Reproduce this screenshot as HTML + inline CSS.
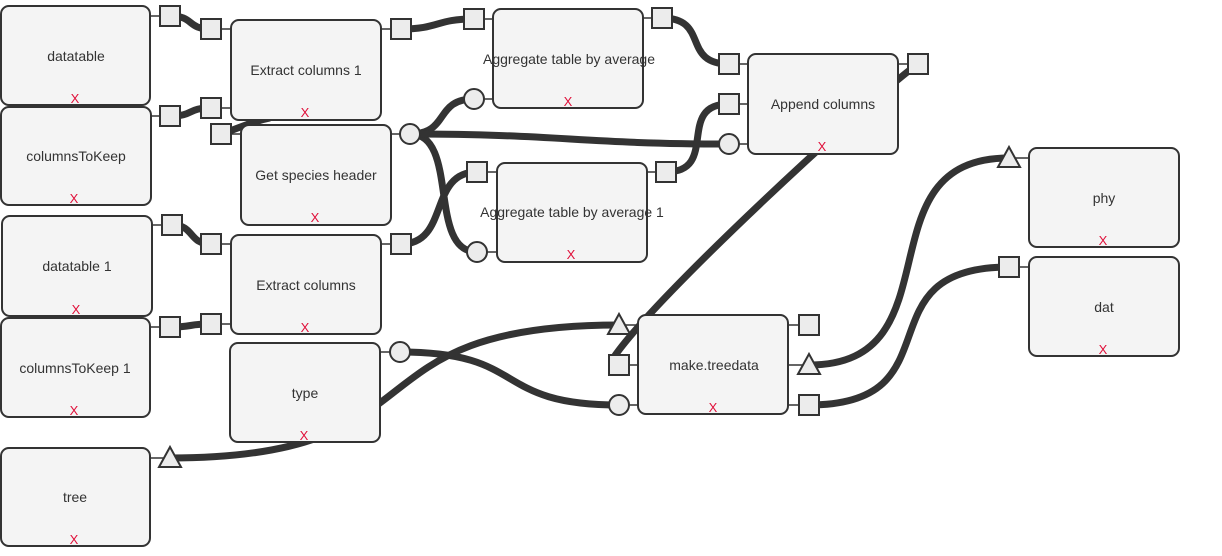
<!DOCTYPE html>
<html><head><meta charset="utf-8"><style>
html,body{margin:0;padding:0;background:#fff;width:1222px;height:556px;overflow:hidden}
text{font-family:"Liberation Sans",sans-serif;font-size:14px;fill:#333}
.x{fill:#e0103a;font-size:13px}
.b{fill:#f4f4f4;stroke:#333;stroke-width:2}
.p{fill:#ececec;stroke:#333;stroke-width:2}
.w{fill:none;stroke:#333;stroke-width:7}
.s{stroke:#333;stroke-width:1.5}
</style></head><body>
<svg width="1222" height="556" xmlns="http://www.w3.org/2000/svg">
<g class="w">
<path d="M170,16 C195,16 186,29 211,29"/>
<path d="M170,116 C195,116 186,108 211,108"/>
<path d="M401,29 C440,29 435,19 474,19"/>
<path d="M662,18 C710,18 681,64 729,64"/>
<path d="M410,134 C450,134 434,99 474,99"/>
<path d="M410,134 C460,134 427,252 477,252"/>
<path d="M410,134 C560,134 580,144 729,144"/>
<path d="M918,64 C880,90 650,300 612,360"/>
<path d="M666,172 C720,172 675,104 729,104"/>
<path d="M172,225 C195,225 188,244 211,244"/>
<path d="M170,327 C195,327 186,324 211,324"/>
<path d="M401,244 C450,244 428,172 477,172"/>
<path d="M221,134 C240,128 250,122 270,118"/>
<path d="M400,352 C530,352 490,405 619,405"/>
<path d="M170,458 C450,458 340,325 619,325"/>
<path d="M809,365 C960,365 858,158 1009,158"/>
<path d="M809,405 C960,405 858,267 1009,267"/>
</g>
<g class="s">
<line x1="150" y1="16" x2="170" y2="16"/><line x1="150" y1="116" x2="170" y2="116"/>
<line x1="152" y1="225" x2="172" y2="225"/><line x1="150" y1="327" x2="170" y2="327"/>
<line x1="150" y1="458" x2="170" y2="458"/>
<line x1="211" y1="29" x2="231" y2="29"/><line x1="211" y1="108" x2="231" y2="108"/>
<line x1="381" y1="29" x2="401" y2="29"/>
<line x1="221" y1="134" x2="241" y2="134"/><line x1="391" y1="134" x2="410" y2="134"/>
<line x1="211" y1="244" x2="231" y2="244"/><line x1="211" y1="324" x2="231" y2="324"/>
<line x1="381" y1="244" x2="401" y2="244"/><line x1="380" y1="352" x2="400" y2="352"/>
<line x1="474" y1="19" x2="493" y2="19"/><line x1="474" y1="99" x2="493" y2="99"/>
<line x1="643" y1="18" x2="662" y2="18"/>
<line x1="477" y1="172" x2="497" y2="172"/><line x1="477" y1="252" x2="497" y2="252"/>
<line x1="647" y1="172" x2="666" y2="172"/>
<line x1="729" y1="64" x2="748" y2="64"/><line x1="729" y1="104" x2="748" y2="104"/><line x1="729" y1="144" x2="748" y2="144"/>
<line x1="898" y1="64" x2="918" y2="64"/>
<line x1="619" y1="325" x2="638" y2="325"/><line x1="619" y1="365" x2="638" y2="365"/><line x1="619" y1="405" x2="638" y2="405"/>
<line x1="788" y1="325" x2="809" y2="325"/><line x1="788" y1="365" x2="809" y2="365"/><line x1="788" y1="405" x2="809" y2="405"/>
<line x1="1009" y1="158" x2="1029" y2="158"/><line x1="1009" y1="267" x2="1029" y2="267"/>
</g>
<g>
<rect class="b" x="1" y="6" width="149" height="99" rx="8"/><text x="76" y="61" text-anchor="middle">datatable</text><text class="x" x="75" y="103" text-anchor="middle">X</text>
<rect class="b" x="1" y="107" width="150" height="98" rx="8"/><text x="76" y="161" text-anchor="middle">columnsToKeep</text><text class="x" x="74" y="203" text-anchor="middle">X</text>
<rect class="b" x="2" y="216" width="150" height="100" rx="8"/><text x="77" y="271" text-anchor="middle">datatable 1</text><text class="x" x="76" y="314" text-anchor="middle">X</text>
<rect class="b" x="1" y="318" width="149" height="99" rx="8"/><text x="75" y="373" text-anchor="middle">columnsToKeep 1</text><text class="x" x="74" y="415" text-anchor="middle">X</text>
<rect class="b" x="1" y="448" width="149" height="98" rx="8"/><text x="75" y="502" text-anchor="middle">tree</text><text class="x" x="74" y="544" text-anchor="middle">X</text>
<rect class="b" x="231" y="20" width="150" height="100" rx="8"/><text x="306" y="75" text-anchor="middle">Extract columns 1</text><text class="x" x="305" y="117" text-anchor="middle">X</text>
<rect class="b" x="241" y="125" width="150" height="100" rx="8"/><text x="316" y="180" text-anchor="middle">Get species header</text><text class="x" x="315" y="222" text-anchor="middle">X</text>
<rect class="b" x="231" y="235" width="150" height="99" rx="8"/><text x="306" y="290" text-anchor="middle">Extract columns</text><text class="x" x="305" y="332" text-anchor="middle">X</text>
<rect class="b" x="230" y="343" width="150" height="99" rx="8"/><text x="305" y="398" text-anchor="middle">type</text><text class="x" x="304" y="440" text-anchor="middle">X</text>
<rect class="b" x="493" y="9" width="150" height="99" rx="8"/><text x="569" y="64" text-anchor="middle">Aggregate table by average</text><text class="x" x="568" y="106" text-anchor="middle">X</text>
<rect class="b" x="497" y="163" width="150" height="99" rx="8"/><text x="572" y="217" text-anchor="middle">Aggregate table by average 1</text><text class="x" x="571" y="259" text-anchor="middle">X</text>
<rect class="b" x="748" y="54" width="150" height="100" rx="8"/><text x="823" y="109" text-anchor="middle">Append columns</text><text class="x" x="822" y="151" text-anchor="middle">X</text>
<rect class="b" x="638" y="315" width="150" height="99" rx="8"/><text x="714" y="370" text-anchor="middle">make.treedata</text><text class="x" x="713" y="412" text-anchor="middle">X</text>
<rect class="b" x="1029" y="148" width="150" height="99" rx="8"/><text x="1104" y="203" text-anchor="middle">phy</text><text class="x" x="1103" y="245" text-anchor="middle">X</text>
<rect class="b" x="1029" y="257" width="150" height="99" rx="8"/><text x="1104" y="312" text-anchor="middle">dat</text><text class="x" x="1103" y="354" text-anchor="middle">X</text>
</g>
<g>
<rect class="p" x="160" y="6" width="20" height="20"/><rect class="p" x="160" y="106" width="20" height="20"/>
<rect class="p" x="162" y="215" width="20" height="20"/><rect class="p" x="160" y="317" width="20" height="20"/>
<polygon class="p" points="170,447 181,467 159,467"/>
<rect class="p" x="201" y="19" width="20" height="20"/><rect class="p" x="201" y="98" width="20" height="20"/>
<rect class="p" x="391" y="19" width="20" height="20"/>
<rect class="p" x="211" y="124" width="20" height="20"/><circle class="p" cx="410" cy="134" r="10"/>
<rect class="p" x="201" y="234" width="20" height="20"/><rect class="p" x="201" y="314" width="20" height="20"/>
<rect class="p" x="391" y="234" width="20" height="20"/><circle class="p" cx="400" cy="352" r="10"/>
<rect class="p" x="464" y="9" width="20" height="20"/><circle class="p" cx="474" cy="99" r="10"/>
<rect class="p" x="652" y="8" width="20" height="20"/>
<rect class="p" x="467" y="162" width="20" height="20"/><circle class="p" cx="477" cy="252" r="10"/>
<rect class="p" x="656" y="162" width="20" height="20"/>
<rect class="p" x="719" y="54" width="20" height="20"/><rect class="p" x="719" y="94" width="20" height="20"/><circle class="p" cx="729" cy="144" r="10"/>
<rect class="p" x="908" y="54" width="20" height="20"/>
<polygon class="p" points="619,314 630,334 608,334"/><rect class="p" x="609" y="355" width="20" height="20"/><circle class="p" cx="619" cy="405" r="10"/>
<rect class="p" x="799" y="315" width="20" height="20"/><polygon class="p" points="809,354 820,374 798,374"/><rect class="p" x="799" y="395" width="20" height="20"/>
<polygon class="p" points="1009,147 1020,167 998,167"/><rect class="p" x="999" y="257" width="20" height="20"/>
</g>
</svg>
</body></html>
